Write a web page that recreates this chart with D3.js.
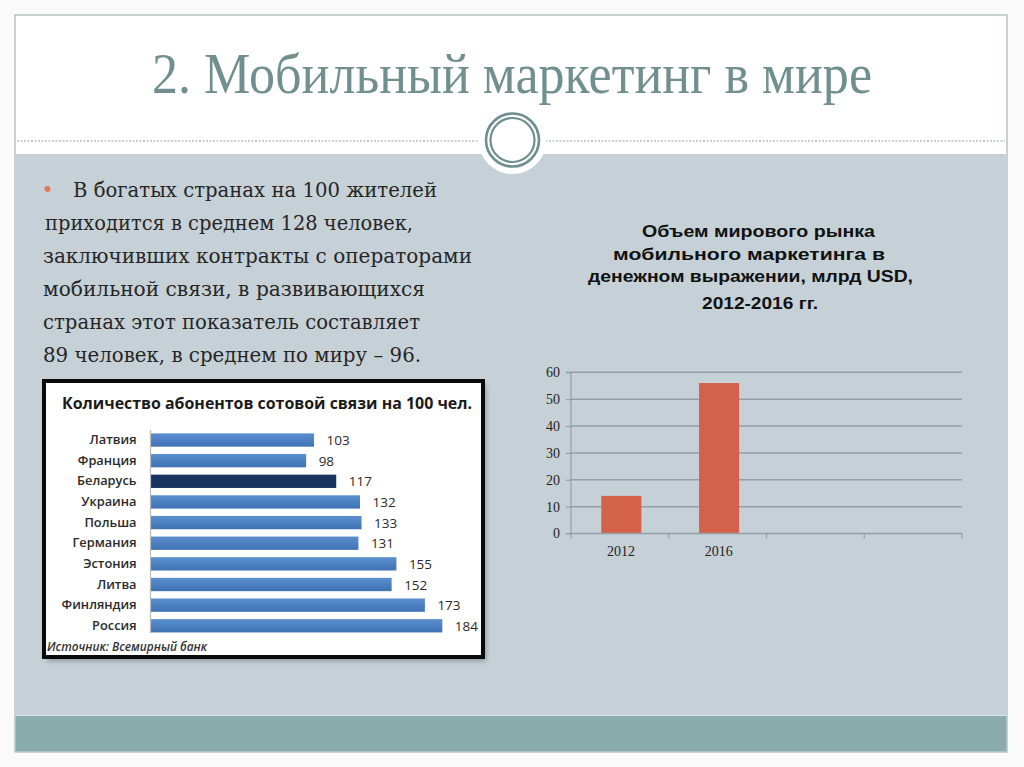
<!DOCTYPE html>
<html>
<head>
<meta charset="utf-8">
<script src="https://cdn.jsdelivr.net/npm/d3@7"></script>
<style>
  html, body { margin: 0; padding: 0; background: #fafafa; }
  svg { display: block; }
</style>
</head>
<body>
<svg id="slide" width="1024" height="767"></svg>
<script>
// ---------- DATA ----------
const slideTitle = "2. Мобильный маркетинг в мире";
const bulletLines = [
  "В богатых странах на 100 жителей",
  "приходится в среднем 128 человек,",
  "заключивших контракты с операторами",
  "мобильной связи, в развивающихся",
  "странах этот показатель составляет",
  "89 человек, в среднем по миру – 96."
];

const subsTitle = "Количество абонентов сотовой связи на 100 чел.";
const subsCountries = ["Латвия", "Франция", "Беларусь", "Украина", "Польша", "Германия", "Эстония", "Литва", "Финляндия", "Россия"];
const subsValues = [103, 98, 117, 132, 133, 131, 155, 152, 173, 184];
const subsHighlight = "Беларусь";
const subsSource = "Источник: Всемирный банк";

const marketTitleLines = ["Объем мирового рынка", "мобильного маркетинга в", "денежном выражении, млрд USD,", "2012-2016 гг."];
const marketCategories = ["2012", "2016", "", ""];
const marketValues = [14, 56, null, null];
const marketYTicks = [0, 10, 20, 30, 40, 50, 60];

// ---------- SLIDE BACKGROUND ----------
const svg = d3.select("#slide");
const defs = svg.append("defs");
const blur = defs.append("filter").attr("id", "shadow").attr("x", "-10%").attr("y", "-10%").attr("width", "130%").attr("height", "130%");
blur.append("feGaussianBlur").attr("stdDeviation", 2.5);
const grad = defs.append("linearGradient").attr("id", "blueBar").attr("x1", 0).attr("y1", 0).attr("x2", 0).attr("y2", 1);
grad.append("stop").attr("offset", "0%").attr("stop-color", "#5a8fd0");
grad.append("stop").attr("offset", "100%").attr("stop-color", "#3f72b3");

svg.append("rect").attr("x", 15).attr("y", 15).attr("width", 992).attr("height", 737)
  .attr("fill", "#ffffff").attr("stroke", "#a5b6b9").attr("stroke-width", 1.2);
svg.append("rect").attr("x", 15.6).attr("y", 154).attr("width", 990.8).attr("height", 562).attr("fill", "#c6d1d7");
svg.append("rect").attr("x", 15.6).attr("y", 715).attr("width", 990.8).attr("height", 36.4).attr("fill", "#8aacac");
svg.append("line").attr("x1", 15.6).attr("x2", 1006.4).attr("y1", 715.5).attr("y2", 715.5).attr("stroke", "#dbe3e6").attr("stroke-width", 1);

// dashed separator + circle ornament
svg.append("line").attr("x1", 17).attr("x2", 1005).attr("y1", 141).attr("y2", 141)
  .attr("stroke", "#8d9fa2").attr("stroke-width", 1).attr("stroke-dasharray", "2,1.5");
svg.append("circle").attr("cx", 512.5).attr("cy", 140).attr("r", 34).attr("fill", "#ffffff");
svg.append("circle").attr("cx", 512.5).attr("cy", 140).attr("r", 26.5).attr("fill", "none").attr("stroke", "#6f8e90").attr("stroke-width", 2.6);
svg.append("circle").attr("cx", 512.5).attr("cy", 140).attr("r", 22).attr("fill", "none").attr("stroke", "#6f8e90").attr("stroke-width", 2.2);

// title
svg.append("text").attr("x", 152).attr("y", 93)
  .attr("textLength", 720).attr("lengthAdjust", "spacingAndGlyphs")
  .attr("font-family", "Liberation Serif, serif").attr("font-size", 58)
  .attr("fill", "#728f90").text(slideTitle);

// bullet text
const bulletX = [73, 45, 43, 43, 43, 43];
const bulletEnd = [437, 413, 472, 425, 420, 421];
svg.append("circle").attr("cx", 47.5).attr("cy", 189).attr("r", 3).attr("fill", "#e0775c");
svg.append("g").selectAll("text").data(bulletLines).join("text")
  .attr("x", (d, i) => bulletX[i])
  .attr("y", (d, i) => 197 + i * 33)
  .attr("textLength", (d, i) => bulletEnd[i] - bulletX[i]).attr("lengthAdjust", "spacingAndGlyphs")
  .attr("font-family", "DejaVu Serif, serif").attr("font-size", 19.5)
  .attr("fill", "#262626")
  .text(d => d);

// ---------- LEFT CHART (horizontal bars) ----------
const box = { x: 44, y: 381, w: 439, h: 276 };
svg.append("rect").attr("x", box.x + 3).attr("y", box.y + 4).attr("width", box.w).attr("height", box.h)
  .attr("fill", "#5e6a70").attr("opacity", 0.55).attr("filter", "url(#shadow)");
svg.append("rect").attr("x", box.x).attr("y", box.y).attr("width", box.w).attr("height", box.h)
  .attr("fill", "#ffffff").attr("stroke", "#0a0a0a").attr("stroke-width", 4);

svg.append("text").attr("x", 62).attr("y", 409)
  .attr("textLength", 410).attr("lengthAdjust", "spacingAndGlyphs")
  .attr("font-family", "Open Sans, sans-serif").attr("font-weight", 700).attr("font-size", 15.5)
  .attr("fill", "#1a1a1a").text(subsTitle);

const yS = d3.scaleBand().domain(subsCountries).range([429.7, 636.1]).paddingInner(0.355).paddingOuter(0.1775);
const xS = d3.scaleLinear().domain([0, 184]).range([151, 442.3]);

const gLeft = svg.append("g");
gLeft.selectAll("rect.bar").data(subsCountries).join("rect").attr("class", "bar")
  .attr("x", xS(0)).attr("y", d => yS(d))
  .attr("width", (d, i) => xS(subsValues[i]) - xS(0)).attr("height", yS.bandwidth())
  .attr("fill", d => d === subsHighlight ? "#1a3462" : "url(#blueBar)");

const yAxisL = gLeft.append("g").attr("transform", `translate(${xS(0) - 0.5},0)`)
  .call(d3.axisLeft(yS).tickSize(0).tickPadding(14));
yAxisL.select(".domain").attr("stroke", "#b9b9b9").attr("stroke-width", 1.2)
  .attr("d", `M0,430V633`);
yAxisL.selectAll("text").attr("font-family", "Open Sans, sans-serif").attr("font-weight", 600)
  .attr("font-size", 12.8).attr("fill", "#2a2a2a");

gLeft.selectAll("text.val").data(subsCountries).join("text").attr("class", "val")
  .attr("x", (d, i) => xS(subsValues[i]) + 12.5)
  .attr("y", d => yS(d) + yS.bandwidth() / 2 + 5)
  .attr("font-family", "Open Sans, sans-serif").attr("font-size", 13.5).attr("fill", "#2a2a2a")
  .text((d, i) => subsValues[i]);

svg.append("text").attr("x", 47).attr("y", 651)
  .attr("textLength", 160).attr("lengthAdjust", "spacingAndGlyphs")
  .attr("font-family", "Open Sans, sans-serif").attr("font-style", "italic").attr("font-weight", 600).attr("font-size", 12)
  .attr("fill", "#333").text(subsSource);

// ---------- RIGHT CHART (vertical bars) ----------
const titleStarts = [642, 613, 588, 702];
const titleEnds = [875, 885, 913, 818];
const titleBaselines = [237, 260, 282, 309];
svg.append("g").selectAll("text").data(marketTitleLines).join("text")
  .attr("x", (d, i) => titleStarts[i]).attr("y", (d, i) => titleBaselines[i])
  .attr("textLength", (d, i) => titleEnds[i] - titleStarts[i]).attr("lengthAdjust", "spacingAndGlyphs")
  .attr("font-family", "Liberation Sans, Arial, sans-serif").attr("font-weight", 700).attr("font-size", 16.5)
  .attr("fill", "#111").text(d => d);

const xIdx = d3.range(marketCategories.length);
const xB = d3.scaleBand().domain(xIdx).range([571, 962]);
const yL = d3.scaleLinear().domain([0, 60]).range([533.5, 372.3]);

const gR = svg.append("g");
// gridlines
gR.selectAll("line.grid").data(marketYTicks.filter(t => t > 0)).join("line").attr("class", "grid")
  .attr("x1", 571).attr("x2", 962).attr("y1", d => yL(d)).attr("y2", d => yL(d))
  .attr("stroke", "#939fa5").attr("stroke-width", 1.5);

// bars
gR.selectAll("rect.mbar").data(xIdx.filter(i => marketValues[i] != null)).join("rect").attr("class", "mbar")
  .attr("x", i => xB(i) + xB.bandwidth() * 0.31)
  .attr("width", xB.bandwidth() * 0.41)
  .attr("y", i => yL(marketValues[i]))
  .attr("height", i => yL(0) - yL(marketValues[i]))
  .attr("fill", "#d4614a");

// y axis
const yAxR = gR.append("g").attr("transform", "translate(571,0)")
  .call(d3.axisLeft(yL).tickValues(marketYTicks).tickSize(5).tickPadding(6));
yAxR.select(".domain").attr("stroke", "#939fa5").attr("stroke-width", 1.2).attr("d", "M-5,372.3H0V533.5H-5");
yAxR.selectAll(".tick line").attr("stroke", "#939fa5").attr("stroke-width", 1.2);
yAxR.selectAll("text").attr("font-family", "Liberation Serif, serif").attr("font-size", 14).attr("fill", "#222");

// x axis with ticks at category boundaries
const gX = gR.append("g").attr("transform", `translate(0,${yL(0)})`);
gX.append("line").attr("x1", 571).attr("x2", 962).attr("stroke", "#939fa5").attr("stroke-width", 1.5);
gX.selectAll("line.tk").data(d3.range(marketCategories.length + 1)).join("line").attr("class", "tk")
  .attr("x1", i => 571 + i * xB.step()).attr("x2", i => 571 + i * xB.step())
  .attr("y1", 0).attr("y2", 5).attr("stroke", "#939fa5").attr("stroke-width", 1.2);
gX.selectAll("text").data(xIdx).join("text")
  .attr("x", i => xB(i) + xB.bandwidth() / 2 + 1).attr("y", 22)
  .attr("text-anchor", "middle")
  .attr("font-family", "Liberation Serif, serif").attr("font-size", 14).attr("fill", "#222")
  .text(i => marketCategories[i]);
</script>
</body>
</html>
